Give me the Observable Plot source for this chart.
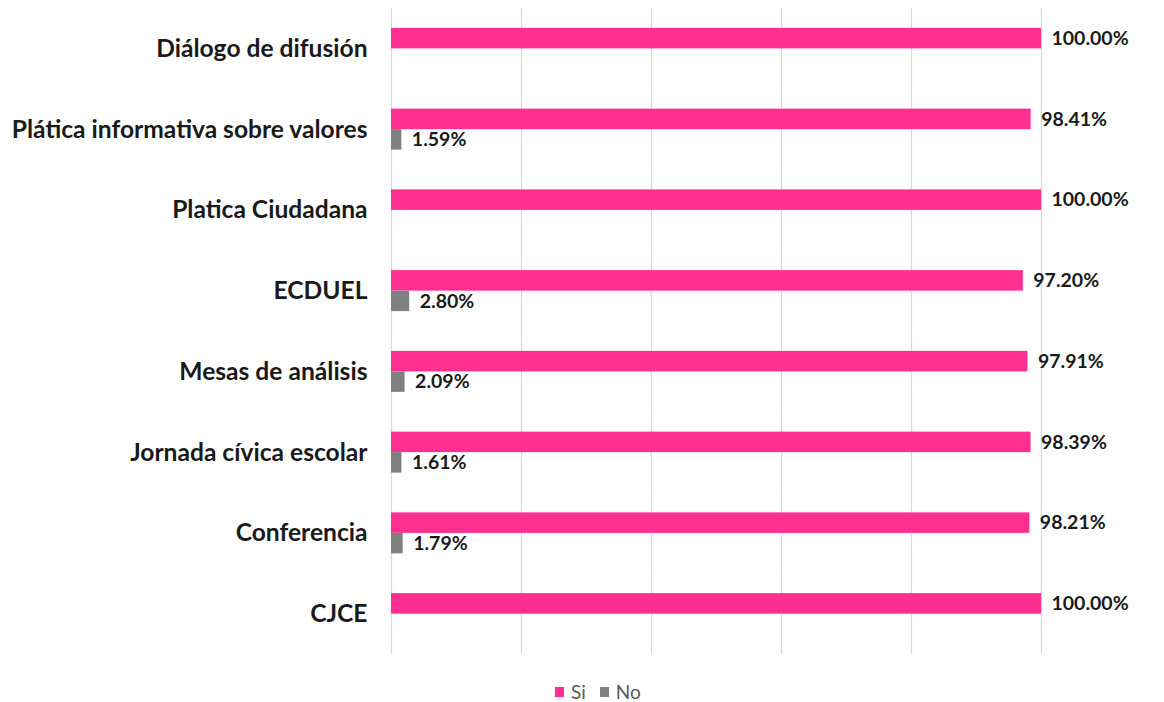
<!DOCTYPE html>
<html>
<head>
<meta charset="utf-8">
<script src="https://cdn.jsdelivr.net/npm/d3@7"></script>
<script src="https://cdn.jsdelivr.net/npm/@observablehq/plot@0.6"></script>
<style>
  body { margin: 0; background: #fff; }
  #wrap { position: relative; width: 1164px; height: 702px; font-family: Lato, "Open Sans", sans-serif; }
  #legend { position: absolute; left: 555px; top: 680px; display: flex; align-items: center; font-size: 19px; color: #595959; }
  #legend .sw { width: 9px; height: 10px; display: inline-block; margin-right: 7px; }
  #legend .item { display: flex; align-items: center; margin-right: 14px; }
</style>
</head>
<body>
<div id="wrap">
  <div id="chart"></div>
  <div id="legend"></div>
</div>
<script>
const categories = [
  "Diálogo de difusión",
  "Plática informativa sobre valores",
  "Platica Ciudadana",
  "ECDUEL",
  "Mesas de análisis",
  "Jornada cívica escolar",
  "Conferencia",
  "CJCE"
];
const siValues = [100.00, 98.41, 100.00, 97.20, 97.91, 98.39, 98.21, 100.00];
const noValues = [0, 1.59, 0, 2.80, 2.09, 1.61, 1.79, 0];
const seriesNames = ["Si", "No"];
const seriesColors = ["#ff2f92", "#808080"];
const gridTicks = [0, 20, 40, 60, 80, 100];

const data = [];
categories.forEach((c, i) => {
  data.push({ cat: c, serie: "Si", value: siValues[i] });
  if (noValues[i] > 0) data.push({ cat: c, serie: "No", value: noValues[i] });
});

const chart = Plot.plot({
  width: 1164,
  height: 668,
  marginLeft: 391,
  marginRight: 123,
  marginTop: 8,
  marginBottom: 14,
  x: { domain: [0, 100], axis: null },
  fy: { domain: categories, padding: 0, axis: null, label: null, round: false },
  y: { domain: seriesNames, axis: null, paddingInner: 0, paddingOuter: 0.97, round: false },
  color: { domain: seriesNames, range: seriesColors },
  style: { fontFamily: "Lato, 'Open Sans', sans-serif", color: "#1a1a1a", background: "#fff" },
  marks: [
    Plot.ruleX(gridTicks, { stroke: "#d9d9d9", strokeWidth: 1.3 }),
    Plot.barX(data, { fy: "cat", y: "serie", x: "value", fill: "serie" }),
    Plot.text(data, {
      fy: "cat", y: "serie", x: "value",
      text: d => d.value.toFixed(2) + "%",
      textAnchor: "start", dx: 10,
      fontSize: 19.5, fontWeight: "bold", fill: "#1a1a1a"
    }),
    Plot.axisFy({
      anchor: "left", tickSize: 0, tickPadding: 24, label: null,
      fontSize: 24.6, fontWeight: "bold", fill: "#1a1a1a"
    })
  ]
});
document.getElementById("chart").appendChild(chart);

const legend = document.getElementById("legend");
seriesNames.forEach((s, i) => {
  const item = document.createElement("div");
  item.className = "item";
  const sw = document.createElement("span");
  sw.className = "sw";
  sw.style.background = seriesColors[i];
  const t = document.createElement("span");
  t.textContent = s;
  item.appendChild(sw);
  item.appendChild(t);
  legend.appendChild(item);
});
</script>
</body>
</html>
